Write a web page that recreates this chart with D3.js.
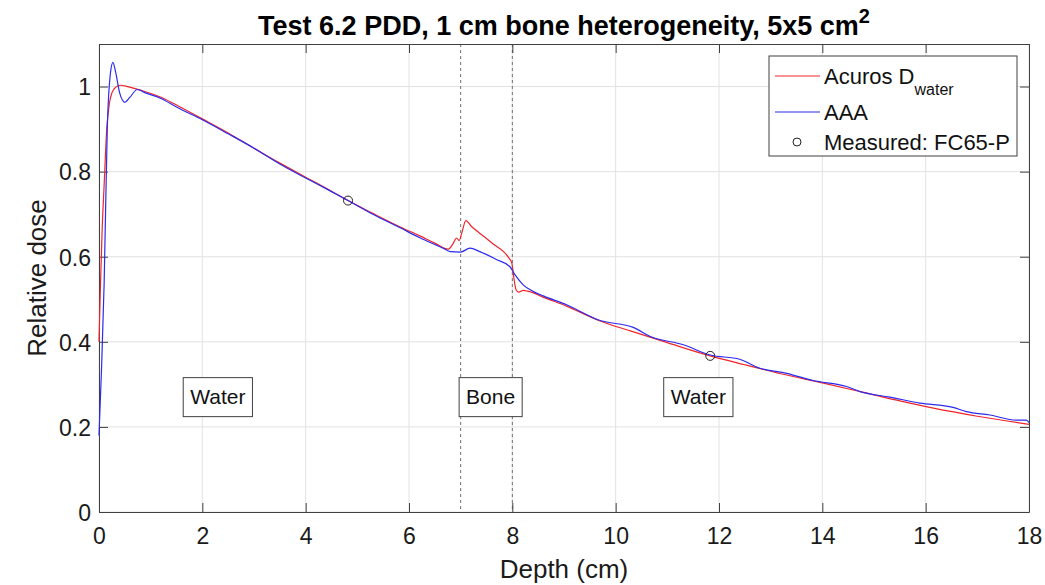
<!DOCTYPE html>
<html>
<head>
<meta charset="utf-8">
<script src="https://cdn.jsdelivr.net/npm/d3@7"></script>
<style>
    body { margin: 0; background: #fff; }
    svg { font-family: "Liberation Sans", Arial, sans-serif; }
</style>
</head>
<body>
<svg width="1045" height="585"></svg>
<script>
// Acuros D_water depth dose (depth in cm, relative dose)
const acurosDepth = [0, 0.03, 0.06, 0.1, 0.15, 0.2, 0.25, 0.32, 0.42, 0.55, 0.7, 0.87, 1.2, 1.6, 2.0, 2.5, 3.0, 3.5, 4.0, 4.5, 4.82, 5.3, 5.83, 6.21, 6.5, 6.76, 6.85, 6.92, 6.97, 7.02, 7.1, 7.21, 7.35, 7.5, 7.65, 7.83, 7.94, 7.99, 8.03, 8.07, 8.12, 8.21, 8.3, 8.41, 8.54, 9.05, 9.7, 10.3, 11.0, 11.83, 12.5, 13.2, 14.02, 14.8, 15.5, 16.15, 17.0, 18.0];
const acurosDose = [0.40, 0.54, 0.66, 0.77, 0.90, 0.96, 0.985, 0.998, 1.003, 1.0, 0.995, 0.989, 0.975, 0.95, 0.924, 0.891, 0.855, 0.82, 0.787, 0.754, 0.732, 0.702, 0.67, 0.649, 0.632, 0.618, 0.63, 0.644, 0.638, 0.655, 0.685, 0.671, 0.657, 0.643, 0.628, 0.612, 0.596, 0.585, 0.55, 0.523, 0.517, 0.521, 0.519, 0.515, 0.508, 0.484, 0.449, 0.425, 0.398, 0.367, 0.346, 0.325, 0.303, 0.281, 0.261, 0.244, 0.225, 0.206];

// AAA depth dose
const aaaDepth = [0, 0.05, 0.1, 0.16, 0.22, 0.27, 0.32, 0.4, 0.5, 0.6, 0.74, 0.9, 1.2, 1.5, 2.0, 2.5, 3.0, 3.5, 4.0, 4.5, 4.82, 5.3, 5.83, 6.2, 6.66, 6.8, 7.0, 7.18, 7.37, 7.7, 7.95, 8.05, 8.21, 8.41, 8.6, 9.05, 9.7, 10.34, 10.66, 11.31, 11.83, 12.4, 12.79, 13.31, 13.82, 14.47, 14.73, 15.31, 15.89, 16.53, 16.79, 17.24, 17.76, 17.95, 18.0];
const aaaDose = [0.18, 0.34, 0.54, 0.90, 1.03, 1.057, 1.035, 0.985, 0.963, 0.975, 0.993, 0.985, 0.972, 0.952, 0.922, 0.889, 0.855, 0.818, 0.785, 0.753, 0.732, 0.700, 0.668, 0.645, 0.620, 0.612, 0.611, 0.620, 0.612, 0.593, 0.577, 0.558, 0.534, 0.518, 0.508, 0.487, 0.450, 0.434, 0.413, 0.393, 0.369, 0.359, 0.338, 0.326, 0.309, 0.295, 0.283, 0.270, 0.256, 0.246, 0.236, 0.228, 0.216, 0.216, 0.210];

// measured points (FC65-P chamber)
const measuredDepth = [4.82, 11.83];
const measuredDose = [0.732, 0.367];

// tissue region labels and interfaces
const regionLabels = ['Water', 'Bone', 'Water'];
const regionLabelDepth = [1.63, 6.97, 10.93];
const regionLabelDose = 0.27;
const interfaces = [7, 8];

const xTicks = [0, 2, 4, 6, 8, 10, 12, 14, 16, 18];
const yTicks = [0, 0.2, 0.4, 0.6, 0.8, 1];

document.addEventListener('DOMContentLoaded', function() {
    let svg = d3.select('svg');

    let left = 99, right = 1029, top = 44, bottom = 512;
    let axisColor = '#404040';

    let x = d3.scaleLinear().domain([0, 18]).range([left, right]);
    let y = d3.scaleLinear().domain([0, 1.1]).range([bottom, top]);

    // grid
    let grid = svg.append('g').attr('class', 'grid');
    grid.selectAll('.gx')
        .data(xTicks)
        .join('line')
        .attr('x1', d => x(d)).attr('x2', d => x(d))
        .attr('y1', top).attr('y2', bottom)
        .attr('stroke', '#e2e2e2').attr('stroke-width', 1);
    grid.selectAll('.gy')
        .data(yTicks)
        .join('line')
        .attr('x1', left).attr('x2', right)
        .attr('y1', d => y(d)).attr('y2', d => y(d))
        .attr('stroke', '#e2e2e2').attr('stroke-width', 1);

    // interface lines
    svg.append('g').selectAll('line')
        .data(interfaces)
        .join('line')
        .attr('x1', d => x(d)).attr('x2', d => x(d))
        .attr('y1', top).attr('y2', bottom)
        .attr('stroke', '#707070')
        .attr('stroke-width', 1)
        .attr('stroke-dasharray', '3,3');

    // axes (ticks inside, box on)
    let tickLen = 9;
    let xAxis = svg.append('g')
        .attr('transform', 'translate(0,' + bottom + ')')
        .call(d3.axisBottom(x).tickValues(xTicks).tickSizeInner(-tickLen).tickSizeOuter(0).tickPadding(16));
    let xAxisTop = svg.append('g')
        .attr('transform', 'translate(0,' + top + ')')
        .call(d3.axisTop(x).tickValues(xTicks).tickSizeInner(-tickLen).tickSizeOuter(0).tickFormat(''));
    let yAxis = svg.append('g')
        .attr('transform', 'translate(' + left + ',0)')
        .call(d3.axisLeft(y).tickValues(yTicks).tickSizeInner(-tickLen).tickSizeOuter(0).tickPadding(8).tickFormat(d3.format('~g')));
    let yAxisRight = svg.append('g')
        .attr('transform', 'translate(' + right + ',0)')
        .call(d3.axisRight(y).tickValues(yTicks).tickSizeInner(-tickLen).tickSizeOuter(0).tickFormat(''));

    [xAxis, xAxisTop, yAxis, yAxisRight].forEach(function(a) {
        a.select('.domain').attr('stroke', axisColor);
        a.selectAll('.tick line').attr('stroke', axisColor);
        a.selectAll('.tick text')
            .attr('fill', '#1a1a1a')
            .style('font-size', '23px')
            .style('font-family', '"Liberation Sans", Arial, sans-serif');
    });
    yAxis.selectAll('.tick text').attr('dy', '0.36em');

    // curves
    let line = d3.line()
        .x(d => x(d[0]))
        .y(d => y(d[1]))
        .curve(d3.curveMonotoneX);

    let acuros = d3.zip(acurosDepth, acurosDose);
    let aaa = d3.zip(aaaDepth, aaaDose);

    svg.append('path')
        .datum(acuros)
        .attr('d', line)
        .attr('fill', 'none')
        .attr('stroke', '#f0242a')
        .attr('stroke-width', 1.2);

    svg.append('path')
        .datum(aaa)
        .attr('d', line)
        .attr('fill', 'none')
        .attr('stroke', '#2b2bf0')
        .attr('stroke-width', 1.2);

    svg.append('g').selectAll('circle')
        .data(d3.zip(measuredDepth, measuredDose))
        .join('circle')
        .attr('cx', d => x(d[0]))
        .attr('cy', d => y(d[1]))
        .attr('r', 4.5)
        .attr('fill', 'none')
        .attr('stroke', '#222')
        .attr('stroke-width', 1);

    // region labels with boxes
    let labels = svg.append('g').selectAll('g')
        .data(d3.zip(regionLabels, regionLabelDepth))
        .join('g');
    labels.append('text')
        .attr('x', d => x(d[1]) + 7)
        .attr('y', y(regionLabelDose))
        .attr('dy', '0.35em')
        .style('font-size', '21px')
        .attr('fill', '#111')
        .text(d => d[0]);
    labels.each(function() {
        let g = d3.select(this);
        let bb = g.select('text').node().getBBox();
        g.insert('rect', 'text')
            .attr('x', bb.x - 7)
            .attr('y', y(regionLabelDose) - 19.5)
            .attr('width', bb.width + 14)
            .attr('height', 39)
            .attr('fill', '#fff')
            .attr('stroke', '#404040')
            .attr('stroke-width', 1);
    });

    // legend
    let legend = svg.append('g');
    legend.append('rect')
        .attr('x', 769).attr('y', 56)
        .attr('width', 248).attr('height', 100)
        .attr('fill', '#fff')
        .attr('stroke', axisColor)
        .attr('stroke-width', 1);
    legend.append('line')
        .attr('x1', 775).attr('x2', 820).attr('y1', 76).attr('y2', 76)
        .attr('stroke', '#f0242a').attr('stroke-width', 1.2);
    let t1 = legend.append('text')
        .attr('x', 824).attr('y', 84)
        .style('font-size', '22px').attr('fill', '#111');
    t1.append('tspan').text('Acuros D');
    t1.append('tspan').attr('dy', 11).style('font-size', '16px').text('water');
    legend.append('line')
        .attr('x1', 775).attr('x2', 820).attr('y1', 112).attr('y2', 112)
        .attr('stroke', '#2b2bf0').attr('stroke-width', 1.2);
    legend.append('text')
        .attr('x', 824).attr('y', 120)
        .style('font-size', '22px').attr('fill', '#111')
        .text('AAA');
    legend.append('circle')
        .attr('cx', 797).attr('cy', 142).attr('r', 4)
        .attr('fill', 'none').attr('stroke', '#222').attr('stroke-width', 1);
    legend.append('text')
        .attr('x', 824).attr('y', 150)
        .style('font-size', '22px').attr('fill', '#111')
        .text('Measured: FC65-P');

    // title
    let title = svg.append('text')
        .attr('x', (left + right) / 2)
        .attr('y', 35)
        .attr('text-anchor', 'middle')
        .style('font-size', '27px')
        .style('font-weight', 'bold')
        .attr('fill', '#000');
    title.append('tspan').text('Test 6.2 PDD, 1 cm bone heterogeneity, 5x5 cm');
    title.append('tspan').attr('dy', -12).style('font-size', '20px').text('2');

    // axis labels
    svg.append('text')
        .attr('x', (left + right) / 2)
        .attr('y', 578)
        .attr('text-anchor', 'middle')
        .style('font-size', '26px')
        .attr('fill', '#1a1a1a')
        .text('Depth (cm)');

    svg.append('text')
        .attr('transform', 'translate(46,' + ((top + bottom) / 2) + ') rotate(-90)')
        .attr('text-anchor', 'middle')
        .style('font-size', '26px')
        .attr('fill', '#1a1a1a')
        .text('Relative dose');
});
</script>
</body>
</html>
